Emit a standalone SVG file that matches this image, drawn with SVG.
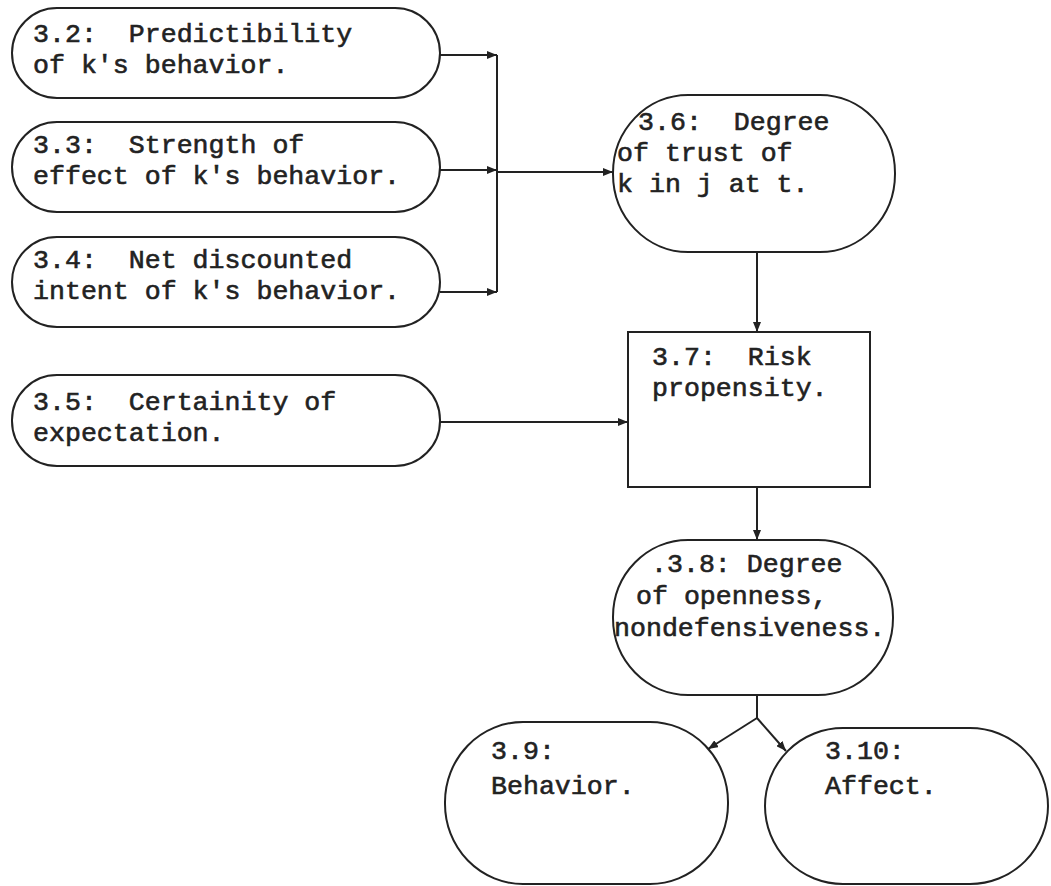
<svg xmlns="http://www.w3.org/2000/svg" width="1051" height="886" viewBox="0 0 1051 886">
<defs>
<style>
.n{fill:#fff;stroke:#222;stroke-width:2}
.t{font-family:"Liberation Mono","DejaVu Sans Mono",monospace;font-size:26.6px;fill:#222;stroke:#222;stroke-width:0.6;white-space:pre}
.c{fill:none;stroke:#222;stroke-width:2}
</style>
<marker id="a" viewBox="0 0 10 8" refX="10" refY="4" markerWidth="10" markerHeight="8" markerUnits="userSpaceOnUse" orient="auto">
<path d="M0,0 L10,4 L0,8 Z" fill="#222"/>
</marker>
</defs>
<rect width="1051" height="886" fill="#fff"/>
<g id="connectors">
<path class="c" d="M440,55 H497" marker-end="url(#a)"/>
<path class="c" d="M440,292 H497" marker-end="url(#a)"/>
<path class="c" d="M497,55 V292"/>
<path class="c" d="M440,170 H497" marker-end="url(#a)"/>
<path class="c" d="M497,172 H613" marker-end="url(#a)"/>
<path class="c" d="M440,422 H628" marker-end="url(#a)"/>
<path class="c" d="M757,252 V332" marker-end="url(#a)"/>
<path class="c" d="M757,487 V540" marker-end="url(#a)"/>
<path class="c" d="M757,695 V718"/>
<path class="c" d="M757,718 L708,749" marker-end="url(#a)"/>
<path class="c" d="M757,718 L786,751" marker-end="url(#a)"/>
</g>
<g id="n32">
<rect class="n" x="12" y="8" width="428" height="90" rx="45" ry="45"/>
<text class="t" x="33" y="42" xml:space="preserve">3.2:  Predictibility</text>
<text class="t" x="33" y="73">of k's behavior.</text>
</g>
<g id="n33">
<rect class="n" x="12" y="122" width="428" height="90" rx="45" ry="45"/>
<text class="t" x="33" y="153" xml:space="preserve">3.3:  Strength of</text>
<text class="t" x="33" y="184">effect of k's behavior.</text>
</g>
<g id="n34">
<rect class="n" x="12" y="237" width="428" height="90" rx="45" ry="45"/>
<text class="t" x="33" y="268" xml:space="preserve">3.4:  Net discounted</text>
<text class="t" x="33" y="299">intent of k's behavior.</text>
</g>
<g id="n35">
<rect class="n" x="12" y="375" width="428" height="91" rx="45" ry="45"/>
<text class="t" x="33" y="410" xml:space="preserve">3.5:  Certainity of</text>
<text class="t" x="33" y="441">expectation.</text>
</g>
<g id="n36">
<rect class="n" x="613" y="95" width="282" height="157" rx="75" ry="78"/>
<text class="t" x="638" y="130" xml:space="preserve">3.6:  Degree</text>
<text class="t" x="617" y="161">of trust of</text>
<text class="t" x="617" y="192">k in j at t.</text>
</g>
<g id="n37">
<rect class="n" x="628" y="332" width="242" height="155"/>
<text class="t" x="652" y="365" xml:space="preserve">3.7:  Risk</text>
<text class="t" x="652" y="396">propensity.</text>
</g>
<g id="n38">
<rect class="n" x="613" y="540" width="280" height="155" rx="75" ry="77"/>
<text class="t" x="651" y="572">.3.8: Degree</text>
<text class="t" x="636" y="604">of openness,</text>
<text class="t" x="614" y="636">nondefensiveness.</text>
</g>
<g id="n39">
<rect class="n" x="445" y="722" width="283" height="162" rx="78" ry="80"/>
<text class="t" x="491" y="759">3.9:</text>
<text class="t" x="491" y="794">Behavior.</text>
</g>
<g id="n310">
<rect class="n" x="765" y="728" width="283" height="156" rx="78" ry="78"/>
<text class="t" x="825" y="759">3.10:</text>
<text class="t" x="825" y="794">Affect.</text>
</g>
</svg>
